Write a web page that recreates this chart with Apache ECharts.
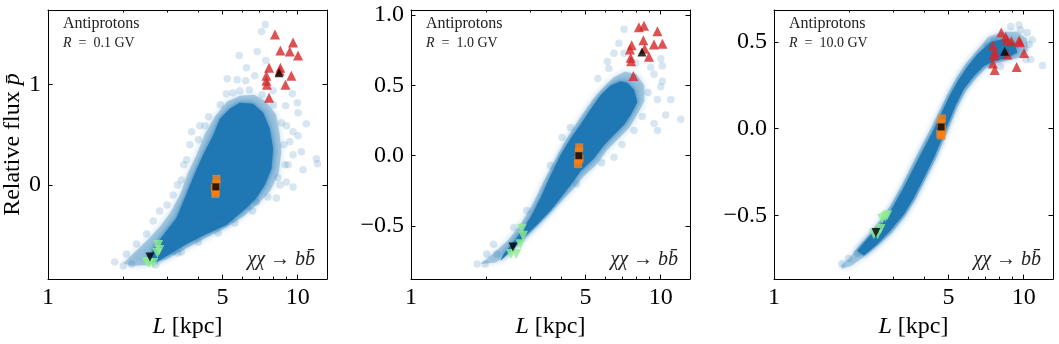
<!DOCTYPE html>
<html>
<head>
<meta charset="utf-8">
<script src="https://cdn.jsdelivr.net/npm/echarts@6/dist/echarts.min.js"></script>
<style>
  html, body { margin: 0; padding: 0; background: #fff; }
  #chart { width: 1059px; height: 344px; }
</style>
</head>
<body>
<div id="chart"></div>
<script>
// tick values
const xLabelTicks = [1, 5, 10];
const xMajorTicks = [5, 10];
const xMinorTicks = [2, 3, 4, 6, 7, 8, 9];
const yTicks1 = [0, 1];
const yTicks2 = [-0.5, 0, 0.5, 1.0];
const yTicks3 = [-0.5, 0, 0.5];
const rigidities = ['0.1', '1.0', '10.0'];

// panel 1, R = 0.1 GV : [L (kpc), relative flux]
const core1 = [[2.48, -0.76], [2.72, -0.59], [2.98, -0.46], [3.27, -0.33], [3.53, -0.13], [3.81, 0.07], [4.18, 0.30], [4.58, 0.49], [4.88, 0.66], [5.35, 0.76], [5.86, 0.82], [6.63, 0.81], [7.27, 0.72], [7.73, 0.56], [7.97, 0.36], [7.85, 0.16], [7.38, 0.0], [6.83, -0.13], [6.04, -0.26], [5.18, -0.40], [4.31, -0.49], [3.59, -0.59], [3.08, -0.69], [2.72, -0.77]];
const fringe1 = [[2.0, -0.78], [2.25, -0.66], [2.5, -0.55], [2.8, -0.42], [3.1, -0.27], [3.4, -0.08], [3.62, 0.11], [3.95, 0.31], [4.25, 0.51], [4.65, 0.68], [5.2, 0.83], [5.86, 0.89], [6.7, 0.9], [7.5, 0.83], [8.2, 0.7], [8.45, 0.52], [8.6, 0.33], [8.4, 0.12], [7.8, -0.05], [7.0, -0.18], [6.1, -0.31], [5.2, -0.42], [4.35, -0.52], [3.6, -0.63], [3.0, -0.74], [2.5, -0.8], [2.15, -0.81]];
const halo1 = [[7.42, 1.6], [7.16, 1.53], [5.83, 1.29], [6.88, 1.33], [6.23, 1.17], [7.45, 1.24], [5.22, 1.06], [5.72, 1.05], [6.19, 1.04], [6.73, 1.09], [5.18, 0.91], [5.86, 0.94], [7.97, 0.94], [9.52, 0.91], [9.97, 0.82], [8.95, 0.79], [10.03, 0.72], [9.01, 0.59], [9.58, 0.53], [9.29, 0.43], [10.03, 0.49], [10.83, 0.61], [10.34, 0.33], [9.58, 0.30], [11.88, 0.26], [11.99, 0.21], [10.5, 0.15], [9.15, 0.20], [8.34, 0.07], [9.01, 0.03], [9.58, -0.02], [8.21, -0.13], [6.27, -0.21], [6.83, -0.17], [4.05, 0.59], [4.25, 0.59], [3.76, 0.53], [3.59, 0.25], [3.42, 0.05], [3.17, -0.10], [2.8, -0.26], [2.64, -0.36], [2.48, -0.49], [2.26, -0.59], [2.06, -0.69], [1.85, -0.77], [2.0, -0.81], [2.16, -0.79], [3.42, -0.67], [3.17, -0.66], [4.45, -0.44], [4.88, -0.33], [3.0, -0.2], [3.3, 0.0], [3.5, 0.2], [3.7, 0.4], [4.0, 0.45], [4.4, 0.68], [4.9, 0.8], [5.5, 0.92], [6.4, 0.95], [7.2, 0.9], [8.0, 0.8], [8.6, 0.62], [8.8, 0.4], [8.9, 0.2], [8.5, 0.0], [7.6, -0.12], [6.6, -0.26], [5.6, -0.38], [4.8, -0.48], [4.0, -0.57], [3.3, -0.68], [2.7, -0.8]];
const red1 = [[8.11, 1.50], [9.58, 1.42], [8.52, 1.34], [9.29, 1.33], [10.03, 1.29], [7.68, 1.17], [8.52, 1.17], [8.47, 1.14], [7.49, 1.09], [9.43, 1.09], [7.49, 1.04], [7.53, 1.00], [8.93, 1.00], [7.68, 0.87]];
const redMean1 = [[8.42, 1.12]];
const orange1 = [[4.73, 0.06], [4.72, 0.01], [4.66, -0.03], [4.70, -0.07], [4.68, -0.09]];
const orangeMean1 = [[4.70, -0.02]];
const green1 = [[2.76, -0.60], [2.79, -0.65], [2.74, -0.68], [2.54, -0.78], [2.64, -0.78], [2.48, -0.77]];
const greenMean1 = [[2.56, -0.72]];

// panel 2, R = 1.0 GV
const core2 = [[2.35, -0.70], [2.66, -0.58], [3.01, -0.44], [3.30, -0.30], [3.62, -0.14], [3.97, 0.005], [4.35, 0.12], [4.77, 0.22], [5.24, 0.33], [5.74, 0.43], [6.30, 0.50], [6.91, 0.53], [7.35, 0.52], [7.82, 0.47], [8.06, 0.38], [7.58, 0.29], [7.13, 0.22], [6.50, 0.15], [5.92, 0.075], [5.40, -0.02], [4.77, -0.11], [4.35, -0.21], [3.97, -0.30], [3.62, -0.39], [3.20, -0.49], [2.83, -0.58], [2.50, -0.68], [2.28, -0.75]];
const fringe2 = [[1.9, -0.77], [2.15, -0.69], [2.45, -0.6], [2.74, -0.49], [3.08, -0.34], [3.38, -0.19], [3.72, -0.05], [4.1, 0.09], [4.48, 0.2], [4.92, 0.31], [5.4, 0.41], [5.92, 0.49], [6.5, 0.56], [7.2, 0.6], [8.0, 0.58], [8.6, 0.5], [8.6, 0.39], [8.1, 0.3], [7.5, 0.2], [6.85, 0.13], [6.1, 0.04], [5.55, -0.06], [4.9, -0.15], [4.45, -0.24], [3.97, -0.33], [3.5, -0.43], [3.08, -0.53], [2.74, -0.62], [2.45, -0.7], [2.18, -0.76]];
const halo2 = [[7.13, 0.90], [6.80, 0.80], [6.50, 0.73], [7.13, 0.73], [6.11, 0.67], [7.94, 0.66], [9.12, 0.63], [10.0, 0.69], [10.15, 0.64], [9.40, 0.58], [10.15, 0.53], [10.0, 0.49], [10.97, 0.40], [9.70, 0.40], [10.47, 0.29], [9.40, 0.23], [9.70, 0.18], [8.44, 0.28], [7.82, 0.18], [12.03, 0.26], [6.50, -0.01], [5.32, 0.15], [4.03, 0.13], [4.35, 0.20], [3.62, -0.07], [3.73, -0.25], [3.30, -0.35], [2.91, -0.39], [2.58, -0.51], [2.14, -0.63], [2.01, -0.70], [1.84, -0.77], [1.98, -0.77], [2.21, -0.70], [5.6, 0.55], [6.2, 0.62], [8.9, 0.45], [7.0, 0.08], [5.8, -0.05], [4.6, -0.2]];
const red2 = [[8.18, 0.915], [8.57, 0.925], [9.70, 0.885], [7.65, 0.786], [8.52, 0.821], [9.40, 0.791], [10.16, 0.796], [7.53, 0.756], [8.62, 0.761], [7.58, 0.697], [8.97, 0.704], [7.61, 0.673], [7.77, 0.568]];
const redMean2 = [[8.41, 0.739]];
const orange2 = [[4.72, 0.06], [4.70, 0.03], [4.68, -0.03], [4.66, -0.06], [4.73, -0.02]];
const orangeMean2 = [[4.70, 0.0]];
const green2 = [[2.78, -0.52], [2.81, -0.57], [2.74, -0.63], [2.51, -0.70], [2.64, -0.70]];
const greenMean2 = [[2.56, -0.65]];

// panel 3, R = 10.0 GV
const core3 = [[2.15, -0.705], [2.36, -0.638], [2.67, -0.552], [2.98, -0.457], [3.30, -0.343], [3.62, -0.229], [3.98, -0.114], [4.38, 0.0], [4.70, 0.095], [5.05, 0.19], [5.50, 0.286], [5.98, 0.362], [6.52, 0.43], [7.37, 0.50], [8.34, 0.52], [9.15, 0.50], [9.43, 0.44], [8.60, 0.41], [7.60, 0.39], [6.93, 0.362], [6.32, 0.305], [5.76, 0.229], [5.33, 0.133], [5.01, 0.038], [4.71, -0.057], [4.36, -0.171], [3.98, -0.286], [3.63, -0.40], [3.31, -0.495], [2.92, -0.59], [2.59, -0.667], [2.29, -0.733]];
const fringe3 = [[1.85, -0.79], [2.0, -0.75], [2.15, -0.69], [2.36, -0.625], [2.64, -0.535], [2.92, -0.445], [3.24, -0.33], [3.55, -0.215], [3.9, -0.1], [4.28, 0.012], [4.6, 0.105], [4.96, 0.2], [5.4, 0.3], [5.88, 0.378], [6.4, 0.44], [7.2, 0.53], [8.2, 0.56], [9.4, 0.56], [10.3, 0.52], [10.4, 0.45], [9.6, 0.41], [8.6, 0.395], [7.7, 0.376], [7.05, 0.35], [6.42, 0.29], [5.85, 0.215], [5.42, 0.124], [5.09, 0.028], [4.79, -0.066], [4.43, -0.18], [4.04, -0.295], [3.68, -0.41], [3.33, -0.51], [2.95, -0.605], [2.6, -0.677], [2.3, -0.738], [2.05, -0.79], [1.87, -0.81]];
const halo3 = [[1.87, -0.78], [1.99, -0.75], [2.15, -0.72], [9.58, 0.60], [8.87, 0.59], [10.34, 0.556], [10.83, 0.514], [10.50, 0.486], [10.67, 0.40], [11.89, 0.366], [9.72, 0.571], [10.19, 0.40], [7.60, 0.51], [8.08, 0.36], [7.15, 0.48]];
const red3 = [[8.13, 0.556], [8.47, 0.530], [8.60, 0.510], [8.92, 0.505], [9.58, 0.510], [9.67, 0.499], [7.53, 0.48], [7.67, 0.442], [7.60, 0.423], [10.03, 0.438], [8.60, 0.429], [7.53, 0.377], [7.65, 0.339], [9.37, 0.356]];
const redMean3 = [[8.39, 0.447]];
const orange3 = [[4.70, 0.06], [4.66, 0.03], [4.63, -0.03], [4.68, -0.04], [4.71, 0.0]];
const orangeMean3 = [[4.67, 0.01]];
const green3 = [[2.84, -0.50], [2.79, -0.51], [2.71, -0.52], [2.67, -0.58], [2.51, -0.61], [2.60, -0.61]];
const greenMean3 = [[2.56, -0.60]];

const serif = "'Liberation Serif', 'DejaVu Serif', serif";
const blue = '#1f77b4';

const panels = [
  { left: 48, ymin: -0.94, ymax: 1.745, yTicks: yTicks1, digits: 0, core: core1, fringe: fringe1, halo: halo1, red: red1, redMean: redMean1, orange: orange1, orangeMean: orangeMean1, green: green1, greenMean: greenMean1 },
  { left: 411, ymin: -0.878, ymax: 1.037, yTicks: yTicks2, digits: 1, core: core2, fringe: fringe2, halo: halo2, red: red2, redMean: redMean2, orange: orange2, orangeMean: orangeMean2, green: green2, greenMean: greenMean2 },
  { left: 774, ymin: -0.869, ymax: 0.686, yTicks: yTicks3, digits: 1, core: core3, fringe: fringe3, halo: halo3, red: red3, redMean: redMean3, orange: orange3, orangeMean: orangeMean3, green: green3, greenMean: greenMean3 }
];
const plotW = 279;
const plotTop = 10;
const plotH = 272;

function fmtY(v, digits) {
  const s = Math.abs(v).toFixed(digits);
  return v < 0 ? '\u2212' + s : s;
}

function xAxisDef(i, position, ticks, len, withLabels) {
  return {
    gridIndex: i,
    type: 'log',
    logBase: 10,
    min: 1,
    max: 13.1,
    position: position,
    axisLine: { show: len > 3, onZero: false, lineStyle: { color: '#000', width: 1 } },
    axisTick: { show: true, inside: true, length: len, customValues: ticks, lineStyle: { color: '#000', width: 1 } },
    axisLabel: withLabels
      ? { show: true, customValues: xLabelTicks, fontSize: 24, fontFamily: serif, color: '#000', margin: 7 }
      : { show: false },
    splitLine: { show: false },
    minorTick: { show: false },
    name: withLabels ? '{i|L} [kpc]' : '',
    nameLocation: 'middle',
    nameGap: 30,
    nameTextStyle: {
      fontSize: 24, fontFamily: serif, color: '#000',
      rich: { i: { fontSize: 24, fontFamily: serif, fontStyle: 'italic', color: '#000' } }
    }
  };
}

// dense part of the cloud: filled outline, soft edge from a blur
function polygonSeries(i, poly, opacity, blur) {
  return {
    type: 'custom',
    xAxisIndex: i * 4,
    yAxisIndex: i * 2,
    silent: true,
    clip: true,
    data: poly,
    encode: { x: 0, y: 1 },
    renderItem: function (params, api) {
      if (params.dataIndex !== 0) return null;
      return {
        type: 'polygon',
        shape: { points: poly.map(function (p) { return api.coord(p); }) },
        style: { fill: blue, opacity: opacity, shadowBlur: blur, shadowColor: 'rgba(31,119,180,0.9)' }
      };
    },
    z: 1
  };
}

function scatter(i, data, symbol, size, color, opts) {
  return Object.assign({
    type: 'scatter',
    xAxisIndex: i * 4,
    yAxisIndex: i * 2,
    data: data,
    symbol: symbol,
    symbolSize: size,
    itemStyle: { color: color },
    silent: true,
    z: 3
  }, opts || {});
}

const grid = [], xAxis = [], yAxis = [], series = [], graphic = [];

panels.forEach(function (p, i) {
  grid.push({ left: p.left, top: plotTop, width: plotW, height: plotH, containLabel: false });
  xAxis.push(xAxisDef(i, 'bottom', xMajorTicks, 4.5, true));
  xAxis.push(xAxisDef(i, 'bottom', xMinorTicks, 2.5, false));
  xAxis.push(xAxisDef(i, 'top', xMajorTicks, 4.5, false));
  xAxis.push(xAxisDef(i, 'top', xMinorTicks, 2.5, false));

  yAxis.push({
    gridIndex: i,
    type: 'value',
    min: p.ymin,
    max: p.ymax,
    position: 'left',
    axisLine: { show: true, onZero: false, lineStyle: { color: '#000', width: 1 } },
    axisTick: { show: true, inside: true, length: 4.5, customValues: p.yTicks, lineStyle: { color: '#000' } },
    axisLabel: {
      customValues: p.yTicks, fontSize: 24, fontFamily: serif, color: '#000', margin: 7,
      formatter: function (v) { return fmtY(v, p.digits); }
    },
    splitLine: { show: false },
    name: i === 0 ? 'Relative flux {i|p\u0304}' : '',
    nameLocation: 'middle',
    nameGap: 22,
    nameTextStyle: {
      fontSize: 24, fontFamily: serif, color: '#000',
      rich: { i: { fontSize: 24, fontFamily: serif, fontStyle: 'italic', color: '#000' } }
    }
  });
  yAxis.push({
    gridIndex: i,
    type: 'value',
    min: p.ymin,
    max: p.ymax,
    position: 'right',
    axisLine: { show: true, onZero: false, lineStyle: { color: '#000', width: 1 } },
    axisTick: { show: true, inside: true, length: 4.5, customValues: p.yTicks, lineStyle: { color: '#000' } },
    axisLabel: { show: false },
    splitLine: { show: false }
  });

  series.push(polygonSeries(i, p.fringe, 0.3, 6));
  series.push(polygonSeries(i, p.core, 1, 5));
  series.push(scatter(i, p.halo, 'circle', 7.5, blue, { itemStyle: { color: blue, opacity: 0.18 }, z: 2 }));
  series.push(scatter(i, p.red, 'triangle', 10, '#d62728'));
  series.push(scatter(i, p.redMean, 'triangle', 9, '#000', { z: 4 }));
  series.push(scatter(i, p.orange, 'rect', 8, '#ff7f0e'));
  series.push(scatter(i, p.orangeMean, 'rect', 7, '#000', { z: 4 }));
  series.push(scatter(i, p.green, 'triangle', 10, '#90ee90', { symbolRotate: 180 }));
  series.push(scatter(i, p.greenMean, 'triangle', 9, '#000', { symbolRotate: 180, z: 4 }));

  graphic.push({
    type: 'text', left: p.left + 15, top: 16, z: 10,
    style: { text: 'Antiprotons', font: '16px ' + serif, fill: '#222' }
  });
  graphic.push({
    type: 'text', left: p.left + 15, top: 36, z: 10,
    style: {
      text: '{i|R}  =  ' + rigidities[i] + ' GV', font: '14px ' + serif, fill: '#222',
      rich: { i: { fontStyle: 'italic', fontSize: 14, fontFamily: serif, fill: '#222' } }
    }
  });
  graphic.push({
    type: 'text', right: 1059 - (p.left + plotW - 12), top: 250, z: 10,
    style: { text: '\u03C7\u03C7 \u2192 bb\u0304', font: 'italic 20px ' + serif, fill: '#222' }
  });
});

const chart = echarts.init(document.getElementById('chart'));
chart.setOption({
  animation: false,
  backgroundColor: '#fff',
  grid: grid,
  xAxis: xAxis,
  yAxis: yAxis,
  series: series,
  graphic: graphic
});
</script>
</body>
</html>
